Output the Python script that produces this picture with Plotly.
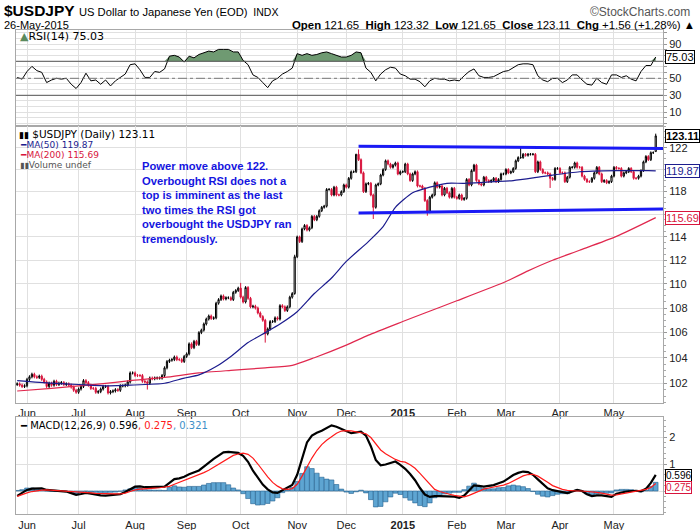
import numpy as np
import pandas as pd
import plotly.graph_objects as go

START = "2014-05-27"
dates = pd.bdate_range(START, "2015-05-26")

closes = [
    101.95, 101.85, 101.75, 101.80,
    102.30, 102.50, 102.70, 102.50, 102.45,
    102.55, 102.30, 102.10, 101.75, 102.00,
    101.85, 102.15, 101.90, 102.00, 102.05,
    101.90, 101.95, 101.85, 101.70, 101.45,
    101.30, 101.55, 101.75, 102.20, 102.05,
    101.85, 101.60, 101.60, 101.30, 101.35,
    101.55, 101.75, 101.75, 101.25, 101.35,
    101.40, 101.50, 101.45, 101.80, 101.80,
    101.85, 102.10, 102.80, 102.80, 102.60,
    102.60, 102.60, 102.15, 102.10, 102.00,
    102.40, 102.35, 102.40, 102.40, 102.40,
    102.60, 103.20, 103.70, 103.80, 103.85,
    104.05, 103.85, 103.85, 103.70, 104.10,
    104.30, 105.10, 104.80, 105.30, 105.05,
    106.00, 106.20, 106.70, 107.10, 107.35,
    107.15, 107.20, 108.40, 108.70, 109.00,
    108.75, 108.85, 108.85, 108.70, 109.30,
    109.45, 109.65, 108.90, 108.50, 109.70,
    108.80, 108.10, 108.15, 108.00, 107.60,
    107.30, 107.00, 105.90, 106.30, 106.90,
    106.90, 107.20, 107.10, 108.20, 108.10,
    107.80, 108.10, 108.90, 109.20, 112.30,
    114.00, 113.60, 114.70, 115.00, 114.60,
    114.80, 115.80, 115.50, 115.80, 116.30,
    116.60, 116.70, 118.20, 118.20, 117.70,
    118.40, 117.70, 117.70, 118.00, 118.60,
    118.40, 119.20, 119.80, 119.80, 121.40,
    120.90, 119.70, 118.00, 118.70, 118.75,
    117.70, 116.60, 118.60, 118.70, 119.50,
    120.00, 120.80, 120.50, 120.20, 120.40,
    120.60, 119.60, 119.80, 119.80, 120.50,
    119.60, 119.00, 119.60, 119.80, 118.50,
    118.50, 118.30, 117.20, 116.20, 117.50,
    117.70, 118.80, 118.40, 118.50, 117.70,
    118.30, 117.90, 117.50, 118.30, 117.50,
    117.40, 117.70, 117.30, 117.40, 119.10,
    118.60, 119.90, 120.40, 119.00, 118.70,
    118.60, 119.30, 119.00, 118.90, 119.00,
    119.20, 118.90, 119.10, 119.60, 119.60,
    120.00, 119.70, 119.80, 120.10, 120.80,
    121.10, 121.10, 121.40, 121.30, 121.40,
    121.40, 121.40, 119.80, 120.70, 120.00,
    119.70, 119.70, 119.60, 119.20, 119.10,
    120.10, 120.10, 119.70, 119.70, 118.90,
    119.30, 120.20, 120.20, 120.60, 120.20,
    120.20, 119.40, 119.10, 118.90, 118.90,
    119.20, 119.70, 120.20, 119.60, 118.90,
    119.00, 118.80, 118.90, 119.40, 120.20,
    120.10, 120.10, 119.40, 119.70, 119.80,
    120.10, 119.80, 119.20, 119.20, 119.40,
    119.90, 120.70, 121.20, 120.90, 121.55,
    121.55, 123.11,
]
first_open = 101.90
last_open = 121.65
wick = 0.12
high_marks = {"2014-10-01": 110.09, "2014-10-31": 112.47, "2014-12-05": 121.44,
              "2014-12-08": 121.85, "2015-03-10": 122.03, "2015-05-26": 123.32}
low_marks = {"2014-08-08": 101.51, "2014-10-15": 105.20, "2014-10-31": 109.10,
             "2014-12-16": 115.57, "2015-01-15": 115.86, "2015-03-26": 118.33,
             "2015-05-26": 121.65}

ma50_dates = ["2014-05-27", "2014-06-16", "2014-07-01", "2014-07-17", "2014-07-30", "2014-08-19",
              "2014-08-29", "2014-09-08", "2014-09-17", "2014-09-25", "2014-10-06", "2014-10-15",
              "2014-10-23", "2014-11-03", "2014-11-12", "2014-11-21", "2014-12-01", "2014-12-12",
              "2014-12-22", "2014-12-29", "2015-01-07", "2015-01-16", "2015-01-27", "2015-02-05",
              "2015-02-24", "2015-03-05", "2015-03-24", "2015-04-13", "2015-05-04", "2015-05-21",
              "2015-05-26"]
ma50_vals = [102.2, 102.0, 101.9, 101.8, 101.85, 102.0, 102.4, 102.65, 103.3, 104.1, 105.2, 106.0,
             106.7, 107.7, 109.2, 110.5, 111.9, 113.6, 114.9, 116.6, 117.9, 118.4, 118.75, 118.75,
             118.9, 119.0, 119.4, 119.8, 119.9, 119.9, 119.87]

ma200_dates = ["2014-05-27", "2014-06-16", "2014-07-14", "2014-07-30", "2014-08-19", "2014-09-08",
               "2014-09-25", "2014-10-15", "2014-10-30", "2014-11-12", "2014-12-01", "2014-12-12",
               "2015-01-01", "2015-01-14", "2015-02-02", "2015-03-02", "2015-03-13", "2015-03-27",
               "2015-04-13", "2015-05-04", "2015-05-26"]
ma200_vals = [101.4, 101.6, 101.95, 102.2, 102.45, 102.8, 103.0, 103.2, 103.4, 104.0, 105.0, 105.8,
              106.9, 107.6, 108.6, 110.2, 111.1, 112.0, 112.85, 114.05, 115.69]

# RSI(14), MACD and signal, read every second trading day from 27-May-2014
rsi = [51, 49, 58, 64, 59, 57, 45, 48, 50, 49,
       50, 43, 38, 45, 56, 47, 48, 43, 48, 41,
       47, 51, 55, 66, 67, 60, 51, 51, 58, 57,
       61, 76, 77, 75, 69, 76, 74, 78, 80, 82,
       81, 84, 84, 84, 81, 81, 71, 66, 54, 51,
       45, 39, 47, 50, 55, 58, 62, 79, 77, 79,
       77, 78, 80, 81, 79, 77, 75, 75, 77, 81,
       80, 62, 57, 47, 55, 60, 63, 62, 55, 53,
       49, 49, 46, 40, 47, 50, 49, 49, 47, 48,
       47, 53, 58, 61, 53, 51, 51, 52, 55, 58,
       59, 63, 66, 67, 67, 66, 53, 48, 46, 50,
       50, 45, 48, 54, 54, 48, 43, 42, 50, 45,
       43, 54, 54, 51, 53, 49, 47, 58, 65, 65,
       75.03]
macd = [-0.18, -0.08, 0.04, 0.09, 0.10, 0.10, 0.04, 0.02, 0.00, -0.01,
        -0.02, -0.08, -0.14, -0.11, -0.07, -0.10, -0.14, -0.16, -0.17, -0.16,
        -0.15, -0.12, -0.04, 0.06, 0.16, 0.17, 0.14, 0.14, 0.14, 0.15,
        0.16, 0.30, 0.44, 0.47, 0.53, 0.62, 0.69, 0.76, 0.90, 1.05,
        1.19, 1.31, 1.43, 1.45, 1.43, 1.41, 1.30, 1.08, 0.75, 0.48,
        0.24, 0.06, -0.05, -0.07, 0.02, 0.10, 0.22, 0.60, 1.20, 1.80,
        2.05, 2.16, 2.23, 2.32, 2.43, 2.38, 2.29, 2.20, 2.14, 2.17,
        2.20, 2.05, 1.66, 1.15, 0.95, 0.98, 1.04, 1.09, 0.97, 0.82,
        0.63, 0.40, 0.11, -0.13, -0.22, -0.19, -0.19, -0.19, -0.20, -0.21,
        -0.25, -0.17, 0.02, 0.21, 0.19, 0.16, 0.19, 0.22, 0.29, 0.35,
        0.47, 0.59, 0.67, 0.72, 0.70, 0.60, 0.43, 0.26, 0.10, 0.03,
        0.00, -0.04, -0.08, -0.02, 0.04, 0.00, -0.12, -0.19, -0.16, -0.16,
        -0.20, -0.22, -0.10, -0.05, -0.02, 0.00, 0.01, -0.01, 0.08, 0.30,
        0.596]
signal = [-0.20, -0.13, -0.07, -0.02, 0.01, 0.03, 0.04, 0.03, 0.02, 0.01,
          0.00, -0.01, -0.03, -0.05, -0.06, -0.07, -0.09, -0.10, -0.11, -0.11,
          -0.11, -0.11, -0.08, -0.02, 0.04, 0.07, 0.09, 0.10, 0.11, 0.12,
          0.14, 0.17, 0.25, 0.32, 0.39, 0.45, 0.52, 0.59, 0.68, 0.77,
          0.88, 1.00, 1.12, 1.22, 1.32, 1.37, 1.40, 1.36, 1.22, 1.00,
          0.75, 0.52, 0.32, 0.18, 0.08, 0.06, 0.09, 0.25, 0.55, 0.90,
          1.22, 1.50, 1.72, 1.88, 2.02, 2.14, 2.22, 2.24, 2.23, 2.20,
          2.17, 2.12, 1.98, 1.74, 1.52, 1.38, 1.26, 1.17, 1.10, 1.07,
          0.97, 0.84, 0.65, 0.45, 0.22, 0.06, -0.02, -0.08, -0.12, -0.16,
          -0.20, -0.22, -0.16, -0.08, 0.02, 0.07, 0.11, 0.14, 0.17, 0.22,
          0.28, 0.37, 0.48, 0.56, 0.61, 0.62, 0.55, 0.45, 0.32, 0.20,
          0.12, 0.06, 0.02, 0.00, 0.00, 0.00, -0.01, -0.03, -0.05, -0.08,
          -0.12, -0.15, -0.14, -0.11, -0.08, -0.05, 0.00, 0.02, 0.06, 0.13,
          0.275]

trend_dates = ["2014-12-08", "2015-05-29"]
trend_upper = [122.15, 121.93]
trend_lower = [116.10, 116.45]

month_starts = ["2014-06-02", "2014-07-01", "2014-08-01", "2014-09-01", "2014-10-01", "2014-11-03",
                "2014-12-01", "2015-01-01", "2015-02-02", "2015-03-02", "2015-04-01", "2015-05-01"]
month_labels = ["Jun", "Jul", "Aug", "Sep", "Oct", "Nov", "Dec", "<b>2015</b>", "Feb", "Mar", "Apr", "May"]

price_ticks = [102, 104, 106, 108, 110, 112, 114, 116, 118, 120, 122, 124]
price_labels = ["102", "104", "106", "108", "110", "112", "114", "", "118", "", "122", ""]
macd_ticks = [0, 1, 2]
macd_labels = ["", "1", "2"]

# ---------------------------------------------------------------------------
s0 = np.datetime64(START)


def bpos(d):
    return int(np.busday_count(s0, np.datetime64(pd.Timestamp(d).date())))


xs = np.busday_count(s0, dates.values.astype("datetime64[D]"))
if len(closes) != len(xs):
    raise ValueError(f"closes {len(closes)} vs dates {len(xs)}")

opens = [first_open] + closes[:-1]
opens[-1] = last_open
highs = [max(o, c) + wick for o, c in zip(opens, closes)]
lows = [min(o, c) - wick for o, c in zip(opens, closes)]
dstr = [d.strftime("%Y-%m-%d") for d in dates]
for k, v in high_marks.items():
    highs[dstr.index(k)] = v
for k, v in low_marks.items():
    lows[dstr.index(k)] = v

xs2 = xs[::2]
hist = np.array(macd) - np.array(signal)
rsi_arr = np.array(rsi, dtype=float)

RED = "#d8143c"
NAVY = "#1c1c8e"
BLUE_TXT = "#1414e0"
GRID = "#e0e0e0"
FRAME = "#a8a8a8"
SANS = "Liberation Sans, Arial, sans-serif"
TICKFONT = dict(family=SANS, size=11, color="#222")
LEGFONT = "DejaVu Sans, Verdana, sans-serif"

fig = go.Figure()

# ---- RSI panel
fig.add_trace(go.Scatter(x=xs2, y=[70] * len(xs2), mode="lines", line=dict(width=0, color="rgba(0,0,0,0)"),
                         xaxis="x", yaxis="y", hoverinfo="skip"))
fig.add_trace(go.Scatter(x=xs2, y=np.maximum(rsi_arr, 70), mode="lines", fill="tonexty",
                         fillcolor="#6f9a72", line=dict(width=0, color="rgba(0,0,0,0)"),
                         xaxis="x", yaxis="y", hoverinfo="skip"))
fig.add_trace(go.Scatter(x=xs2, y=rsi_arr, mode="lines", line=dict(color="black", width=1),
                         xaxis="x", yaxis="y", hoverinfo="skip"))

# ---- Price panel
fig.add_trace(go.Scatter(x=[bpos(d) for d in ma200_dates], y=ma200_vals, mode="lines",
                         line=dict(color="#e0284e", width=1.2, shape="spline", smoothing=0.6),
                         xaxis="x2", yaxis="y2"))
fig.add_trace(go.Scatter(x=[bpos(d) for d in ma50_dates], y=ma50_vals, mode="lines",
                         line=dict(color=NAVY, width=1.2, shape="spline", smoothing=0.6),
                         xaxis="x2", yaxis="y2"))
fig.add_trace(go.Candlestick(x=xs, open=opens, high=highs, low=lows, close=closes,
                             xaxis="x2", yaxis="y2", whiskerwidth=0,
                             increasing=dict(line=dict(color="black", width=1), fillcolor="white"),
                             decreasing=dict(line=dict(color=RED, width=1), fillcolor=RED),
                             hoverinfo="skip"))
for tv in (trend_upper, trend_lower):
    fig.add_trace(go.Scatter(x=[bpos(d) for d in trend_dates], y=tv, mode="lines",
                             line=dict(color="#1a1af5", width=3), xaxis="x2", yaxis="y2"))

# ---- MACD panel
fig.add_trace(go.Bar(x=xs2, y=hist, width=1.9, xaxis="x3", yaxis="y3",
                     marker=dict(color="#5ea5d2", line=dict(color="#22608f", width=0.6))))
fig.add_trace(go.Scatter(x=xs2, y=macd, mode="lines", line=dict(color="black", width=2.2),
                         xaxis="x3", yaxis="y3"))
fig.add_trace(go.Scatter(x=xs2, y=signal, mode="lines", line=dict(color="#ff1a1a", width=1.2),
                         xaxis="x3", yaxis="y3"))

H = 530.0


def py(p):
    return 1 - p / H


xr = [-0.48, 262.96]
tick_pos = [bpos(d) for d in month_starts]

xcommon = dict(range=xr, tickvals=tick_pos, ticktext=month_labels, showgrid=True, gridcolor=GRID,
               showline=True, mirror=True, linecolor=FRAME, zeroline=False, ticks="",
               tickfont=TICKFONT, fixedrange=True)
ycommon = dict(side="right", showgrid=True, gridcolor=GRID, showline=True, mirror=True,
               linecolor=FRAME, zeroline=False, ticks="outside", ticklen=3, tickcolor="#999",
               tickfont=TICKFONT)

rsi_ticks = [30 + k * 20 / 3 for k in range(-5, 12)]
rsi_text = [str(int(round(v))) if (k % 3 == 0 and k != 6) else "" for k, v in zip(range(-5, 12), rsi_ticks)]

fig.update_layout(
    width=700, height=530, margin=dict(l=16, r=37, t=0, b=0),
    paper_bgcolor="white", plot_bgcolor="white", showlegend=False,
    xaxis=dict(xcommon, domain=[0, 1], anchor="y", showticklabels=False),
    yaxis=dict(ycommon, domain=[py(126), py(30)], anchor="x", range=[-6.1, 106.8],
               tickvals=rsi_ticks, ticktext=rsi_text),
    xaxis2=dict(xcommon, domain=[0, 1], anchor="y2", rangeslider=dict(visible=False)),
    yaxis2=dict(ycommon, domain=[py(402.7), py(126)], anchor="x2", type="log",
                range=[np.log10(100.5), np.log10(124.04)],
                tickvals=price_ticks, ticktext=price_labels,
                minor=dict(tickvals=[100.5 + 0.5 * k for k in range(48)], ticks="outside",
                           ticklen=2, tickcolor="#aaa", showgrid=False)),
    xaxis3=dict(xcommon, domain=[0, 1], anchor="y3"),
    yaxis3=dict(ycommon, domain=[py(514.3), py(417.3)], anchor="x3", range=[-0.863, 2.73],
                tickvals=macd_ticks, ticktext=macd_labels,
                minor=dict(tickvals=[-0.8 + 0.2 * k for k in range(18)], ticks="outside",
                           ticklen=2, tickcolor="#aaa", showgrid=False)),
)

# RSI reference lines
fig.add_shape(type="line", xref="x domain", yref="y", x0=0, x1=1, y0=70, y1=70,
              line=dict(color="#555", width=1))
fig.add_shape(type="line", xref="x domain", yref="y", x0=0, x1=1, y0=30, y1=30,
              line=dict(color="#555", width=1))
fig.add_shape(type="line", xref="x domain", yref="y", x0=0, x1=1, y0=50, y1=50,
              line=dict(color="#777", width=1, dash="dashdot"))


def px_x(p):
    return (p - 16) / 647.0


ann = []


def txt(text, x, y, size, color="black", family=LEGFONT, xanchor="left", yanchor="middle", **kw):
    ann.append(dict(text=text, x=px_x(x), y=py(y), xref="paper", yref="paper", showarrow=False,
                    xanchor=xanchor, yanchor=yanchor, font=dict(family=family, size=size, color=color),
                    **kw))


# header
txt("<b>$USDJPY</b> <span style='font-size:11.2px'>US Dollar to Japanese Yen (EOD)</span>"
    "<span style='font-size:10.5px'>  INDX</span>", 2, 11, 15.5, family=SANS)
txt("©StockCharts.com", 692, 12, 12, color="#555", family=SANS, xanchor="right")
txt("26-May-2015", 2, 25, 11, family=SANS)
txt("<b>Open</b> 121.65  <b>High</b> 123.32  <b>Low</b> 121.65  <b>Close</b> 123.11  "
    "<b>Chg</b> +1.56 (+1.28%) ▲", 697, 25, 11.4, family=SANS, xanchor="right")

# panel legends
txt("<span style='color:#5a8a5c'>▲</span>RSI(14) 75.03", 18, 37, 11)
txt("<span style='font-size:9px'>▮▮</span> $USDJPY (Daily) 123.11", 17, 134, 10.5)
txt("<b>━</b>MA(50) 119.87", 18, 144.5, 9, color=NAVY)
txt("<b>━</b>MA(200) 115.69", 18, 155, 9, color=RED)
txt("<span style='font-size:8px'>▮▮</span>Volume undef", 18, 165, 9, color="#555")
txt("<b>━</b> MACD(12,26,9) 0.596<span style='color:#ff1a1a'>, 0.275</span>"
    "<span style='color:#3d8fc7'>, 0.321</span>", 18, 425, 10)

# commentary
txt("<b>Power move above 122.<br>Overbought RSI does not a<br>top is imminent as the last<br>"
    "two times the RSI got<br>overbought the USDJPY ran<br>tremendously.</b>",
    140, 157.5, 11.2, color=BLUE_TXT, family=SANS, yanchor="top", align="left")


# value tags on the right axis
def tag(text, yref, yval, color, bold=False, yshift=0, size=11):
    ann.append(dict(text=f"<b>{text}</b>" if bold else text, x=1, y=yval, xref="paper", yref=yref,
                    xanchor="left", yanchor="middle", xshift=2, yshift=yshift, showarrow=False,
                    bgcolor="white", bordercolor=color, borderwidth=1, borderpad=0,
                    font=dict(family=SANS, size=size, color=color)))


tag("123.11", "y2", np.log10(closes[-1]), "black", bold=True)
tag("119.87", "y2", np.log10(ma50_vals[-1]), NAVY)
tag("115.69", "y2", np.log10(ma200_vals[-1]), RED)
tag("75.03", "y", rsi[-1], "black")
tag("0.596", "y3", macd[-1], "black", yshift=-1, size=10)
tag("0.275", "y3", signal[-1], RED, yshift=-4, size=10)

fig.update_layout(annotations=ann)
fig.write_html("out.html")
